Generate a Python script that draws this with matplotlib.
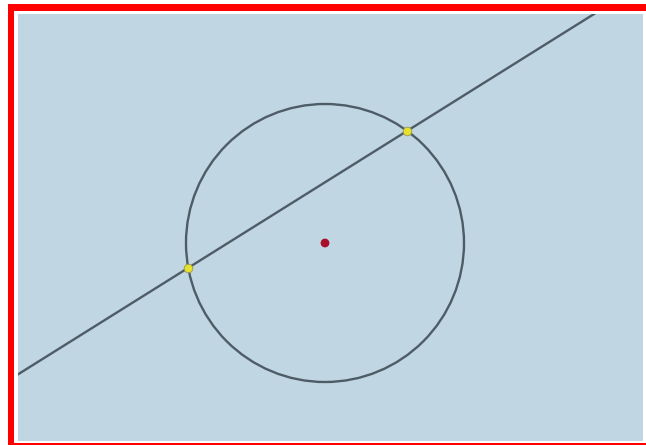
import matplotlib
matplotlib.use("Agg")
import matplotlib.pyplot as plt
from matplotlib.patches import Rectangle, Circle

# geometry (pixel units, y down)
circle_center = [325, 243]
circle_radius = 139
line_x = [188, 407]          # line through the two intersection points
line_y = [268, 131]
intersections_x = [188, 407]
intersections_y = [268, 131]

W, H = 646, 445
bg = "#c0d6e3"
ink = "#4e5c66"

fig = plt.figure(figsize=(W / 100, H / 100), dpi=100)
ax = fig.add_axes([0, 0, 1, 1])
ax.set_xlim(0, W)
ax.set_ylim(H, 0)
ax.axis("off")

# red frame, white inset, blue panel
ax.add_patch(Rectangle((8, 4), W, H, facecolor="#ff0000", edgecolor="none"))
ax.add_patch(Rectangle((14, 11), W, 432, facecolor="white", edgecolor="none"))
panel = Rectangle((18, 14), 625, 427, facecolor=bg, edgecolor="none")
ax.add_patch(panel)

# extend the line across the panel
slope = (line_y[1] - line_y[0]) / (line_x[1] - line_x[0])
x0, x1 = 0, W
ln, = ax.plot([x0, x1], [line_y[0] + slope * (x0 - line_x[0]), line_y[0] + slope * (x1 - line_x[0])],
              color=ink, lw=1.7, solid_capstyle="butt")
ln.set_clip_path(panel)

ax.add_patch(Circle(circle_center, circle_radius, facecolor="none", edgecolor=ink, lw=1.7))

ax.scatter(intersections_x, intersections_y, s=38, color="#e6e033", edgecolors="#9a9a40",
           linewidths=0.6, zorder=5)
ax.scatter([circle_center[0]], [circle_center[1]], s=40, color="#a8102c", edgecolors="none", zorder=5)

fig.savefig("out.png", dpi=100)
